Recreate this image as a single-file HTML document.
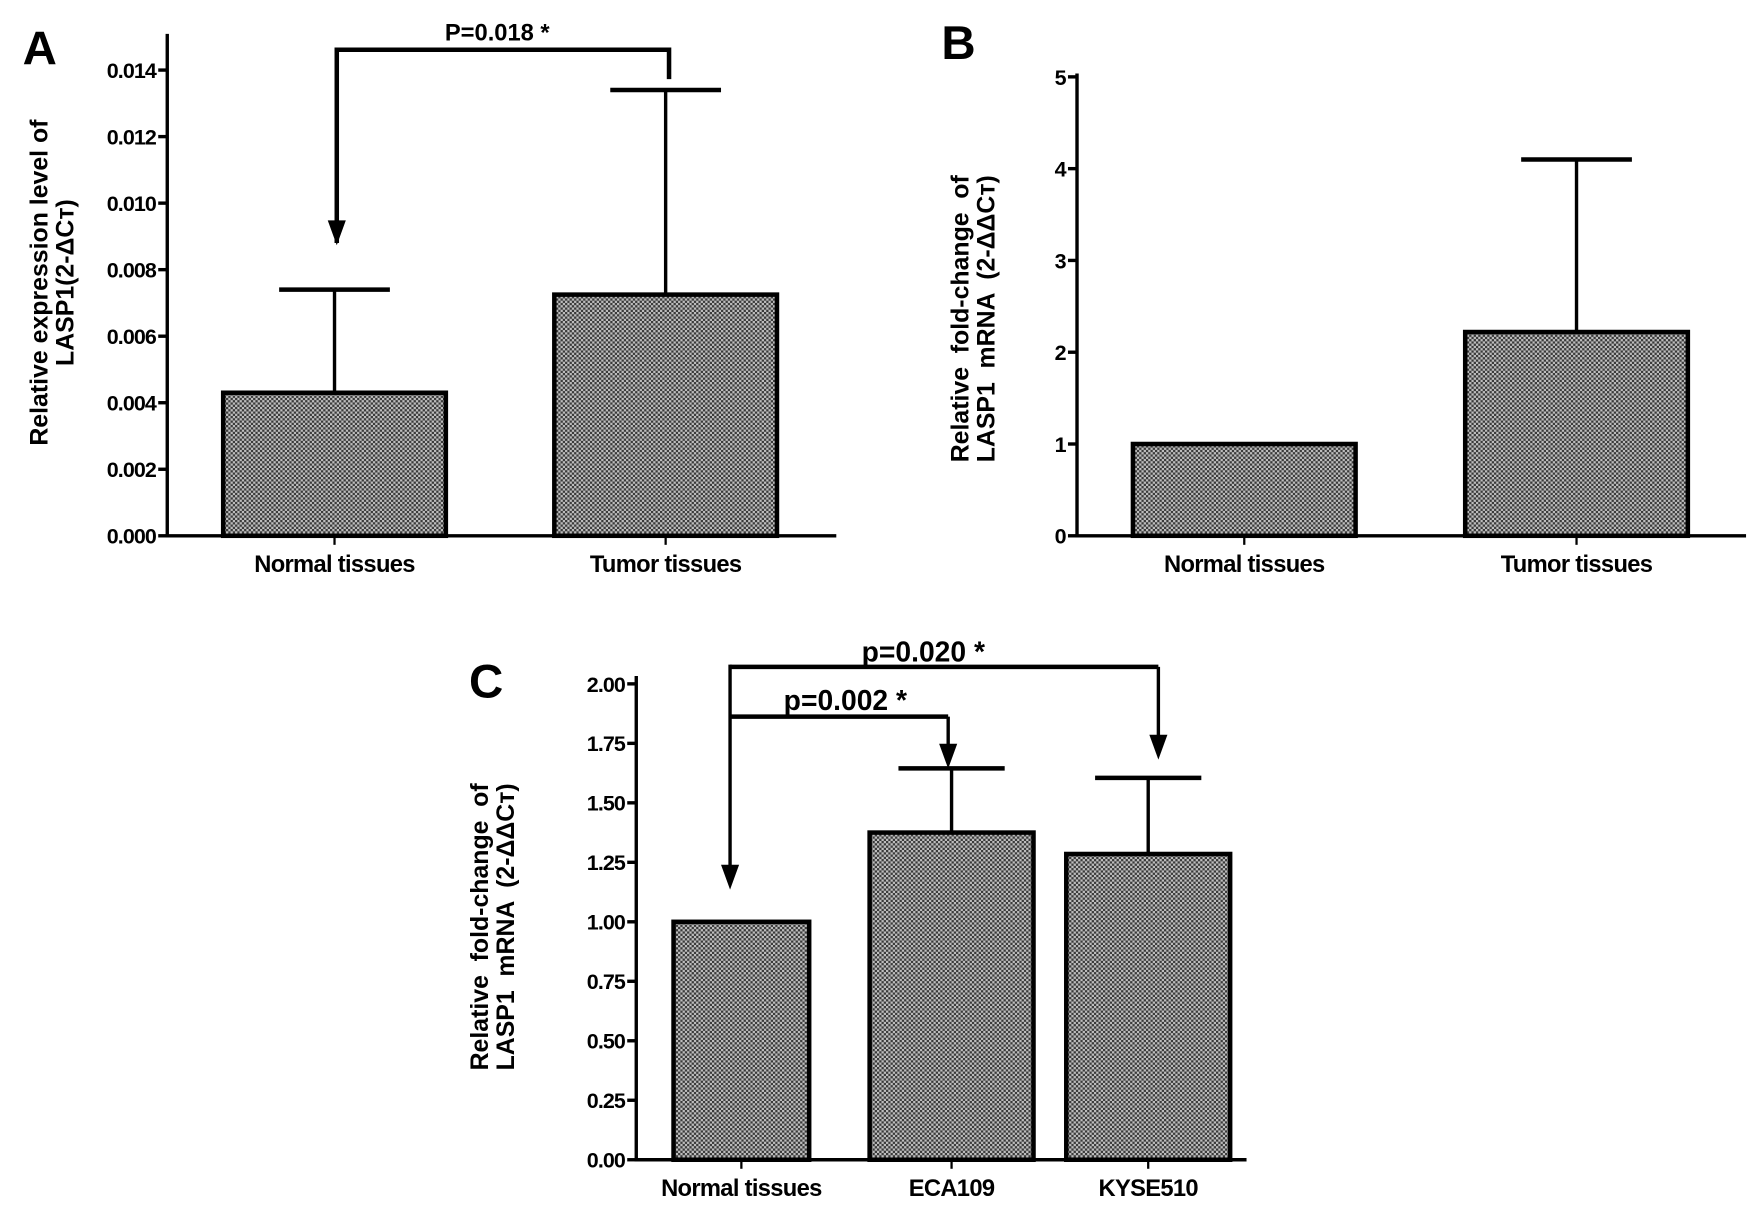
<!DOCTYPE html>
<html><head><meta charset="utf-8"><style>
html,body{margin:0;padding:0;background:#fff;}
svg{display:block;font-family:"Liberation Sans",Arial,sans-serif;font-weight:bold;}
</style></head><body>
<svg id="fig" width="1763" height="1214" viewBox="0 0 1560 1074" preserveAspectRatio="none" xmlns="http://www.w3.org/2000/svg">
<defs>
<pattern id="dots" width="4" height="4" patternUnits="userSpaceOnUse">
<rect width="4" height="4" fill="#bdbdbd"/>
<rect width="2" height="2" fill="#3a3a3a"/>
<rect x="2" y="2" width="2" height="2" fill="#3a3a3a"/>
</pattern>
</defs>
<g id="root"></g>
</svg>
<script>
// Panel A data
const aCats = ["Normal tissues","Tumor tissues"];
const aVals = [0.0043, 0.00725];
const aErr = [0.0074, 0.0134];
const aTicks = ["0.000","0.002","0.004","0.006","0.008","0.010","0.012","0.014"];
// Panel B data
const bCats = ["Normal tissues","Tumor tissues"];
const bVals = [1.0, 2.22];
const bErr = [1.0, 4.1];
const bTicks = ["0","1","2","3","4","5"];
// Panel C data
const cCats = ["Normal tissues","ECA109","KYSE510"];
const cVals = [1.0, 1.375, 1.285];
const cErr = [1.0, 1.645, 1.605];
const cTicks = ["0.00","0.25","0.50","0.75","1.00","1.25","1.50","1.75","2.00"];

const NS="http://www.w3.org/2000/svg";
const root=document.getElementById('root');
function el(tag,attrs,parent,text){const e=document.createElementNS(NS,tag);for(const k in attrs)e.setAttribute(k,attrs[k]);if(text!==undefined)e.textContent=text;(parent||root).appendChild(e);return e;}

function panel(cfg){
  const g=el('g',{});
  
  
  const y=v=>cfg.y0-(v-cfg.vmin)/(cfg.vmax-cfg.vmin)*(cfg.y0-cfg.yTop);
  const ya=el('line',{x1:cfg.ax,y1:cfg.axTop,x2:cfg.ax,y2:cfg.y0+1.5,stroke:'#000','stroke-width':3},g);
  
  
  const xa=el('line',{x1:cfg.ax-1.5,y1:cfg.y0,x2:cfg.xEnd,y2:cfg.y0,stroke:'#000','stroke-width':3},g);
  
  
  cfg.ticks.forEach(t=>{
    const v=parseFloat(t),yy=y(v);
    el('line',{x1:cfg.ax-8,y1:yy,x2:cfg.ax,y2:yy,stroke:'#000','stroke-width':3},g);
    const tl=el('text',{x:cfg.ax-10,y:yy+7,'text-anchor':'end','font-size':19,'letter-spacing':'-0.8'},g,t);
    
    
  });
  cfg.cats.forEach((c,i)=>{
    const cx=cfg.cx[i],w=cfg.bw[i],top=y(cfg.vals[i]),et=y(cfg.err[i]);
    if(cfg.err[i]>cfg.vals[i]){
      el('line',{x1:cx,y1:top,x2:cx,y2:et,stroke:'#000','stroke-width':3},g);
      const cap=el('line',{x1:cx-cfg.cap,y1:et,x2:cx+cfg.cap,y2:et,stroke:'#000','stroke-width':4},g);
      
      
    }
    const b=el('rect',{x:cx-w/2,y:top,width:w,height:cfg.y0-top,fill:'url(#dots)',stroke:'#000','stroke-width':4},g);
    
    
    el('line',{x1:cx,y1:cfg.y0,x2:cx,y2:cfg.y0+8,stroke:'#000','stroke-width':2},g);
    const xl=el('text',{x:cx,y:cfg.y0+32,'text-anchor':'middle','font-size':21,'letter-spacing':'-0.6'},g,c);
    
    
  });
  const L=el('text',{x:cfg.letter[0],y:cfg.letter[1],'font-size':42},g,cfg.letterText);
  
  
  const tt=el('text',{transform:`translate(${cfg.title[0]},${cfg.title[1]}) rotate(-90)`,'text-anchor':'middle','font-size':22,'word-spacing':cfg.ws},g);
  
  
  el('tspan',{x:0,y:0},tt,cfg.titleLines[0]);
  el('tspan',{x:0,y:23},tt,cfg.titleLines[1]);
  return {g,y};
}

panel({name:'panel-a',ax:148,axTop:30,y0:474,yTop:62,vmin:0,vmax:0.014,xEnd:740,ticks:aTicks,cats:aCats,vals:aVals,err:aErr,cx:[296,589],bw:[197,197],cap:49,letter:[20,57],letterText:'A',title:[42,250],ws:0,titleLines:['Relative expression level of','LASP1(2-ΔCт)']});
panel({name:'panel-b',ax:953,axTop:65,y0:474,yTop:68,vmin:0,vmax:5,xEnd:1545,ticks:bTicks,cats:bCats,vals:bVals,err:bErr,cx:[1101,1395],bw:[197,197],cap:49,letter:[833,52],letterText:'B',title:[857,282],ws:6,titleLines:['Relative fold-change of','LASP1 mRNA (2-ΔΔCт)']});
panel({name:'panel-c',ax:563,axTop:598,y0:1026,yTop:605,vmin:0,vmax:2,xEnd:1103,ticks:cTicks,cats:cCats,vals:cVals,err:cErr,cx:[656,842,1016],bw:[120,145,145],cap:47,letter:[415,617],letterText:'C',title:[432,820],ws:6,titleLines:['Relative fold-change of','LASP1 mRNA (2-ΔΔCт)']});

function arrowDown(g,x,y1,y2){
  el('line',{x1:x,y1:y1,x2:x,y2:y2-18,stroke:'#000','stroke-width':3},g);
  el('polygon',{points:`${x-8},${y2-22} ${x+8},${y2-22} ${x},${y2}`,fill:'#000'},g);
}
const ba=el('g',{});


el('polyline',{points:'298,215 298,44 592,44 592,70',fill:'none',stroke:'#000','stroke-width':4},ba);
arrowDown(ba,298,44,217);
el('text',{x:440,y:36,'text-anchor':'middle','font-size':21},ba,'P=0.018 *');
const bc=el('g',{});


el('polyline',{points:'646,590 1025,590',fill:'none',stroke:'#000','stroke-width':4},bc);
el('polyline',{points:'646,634 839,634',fill:'none',stroke:'#000','stroke-width':4},bc);
arrowDown(bc,646,588,787);
arrowDown(bc,839,634,680);
arrowDown(bc,1025,590,672);
el('text',{x:817,y:585,'text-anchor':'middle','font-size':25},bc,'p=0.020 *');
el('text',{x:748,y:628,'text-anchor':'middle','font-size':25},bc,'p=0.002 *');
</script>
</body></html>
